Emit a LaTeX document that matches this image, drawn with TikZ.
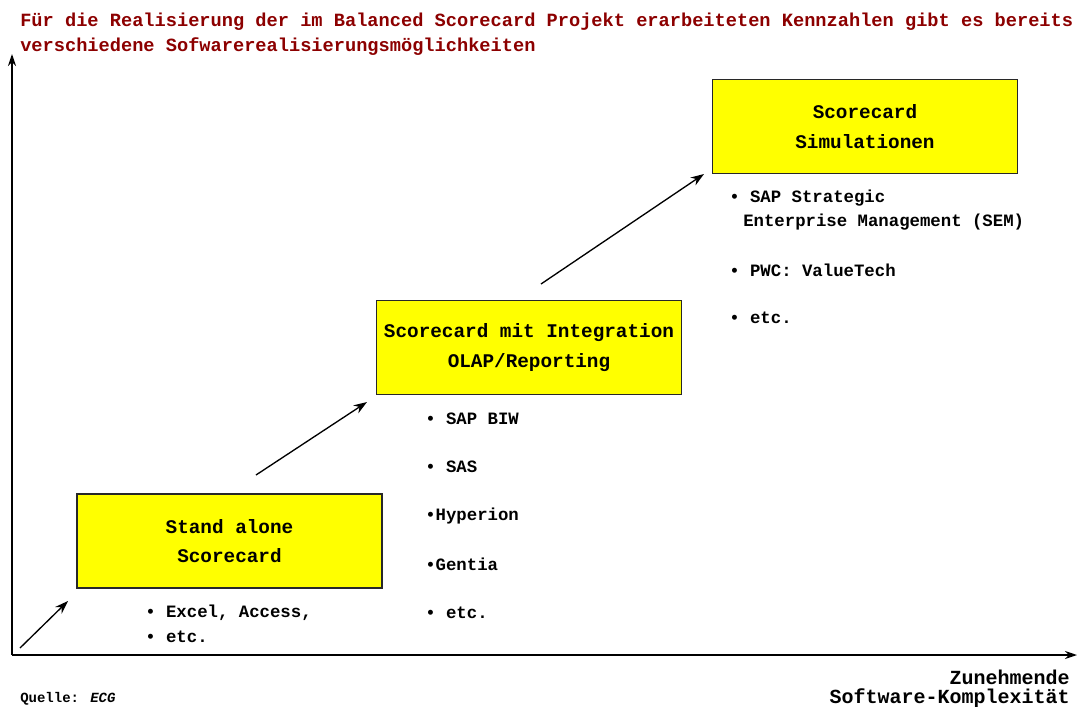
\documentclass[tikz,border=0pt]{standalone}
\usepackage{fontspec}
\setmainfont{Liberation Mono}
\usetikzlibrary{arrows.meta}
\definecolor{titlered}{RGB}{140,0,0}
\definecolor{boxyellow}{RGB}{255,255,0}
\definecolor{boxedge}{RGB}{40,40,40}
\tikzset{
  axis/.style={line width=1pt,-{Stealth[length=9pt,width=6pt]}},
  trend/.style={line width=1pt,-{Stealth[length=10pt,width=7pt]}},
  stagebox/.style={draw=boxedge,line width=1.2pt,fill=boxyellow,align=center,
    minimum width=229pt,minimum height=70.5pt,inner sep=0pt,
    font=\fontsize{14.5}{22}\selectfont\bfseries},
  titletext/.style={anchor=west,inner sep=0pt,text=titlered,font=\fontsize{14}{16}\selectfont\bfseries},
  itemtext/.style={anchor=west,inner sep=0pt,font=\fontsize{13}{15}\selectfont\bfseries},
  axistext/.style={anchor=east,inner sep=0pt,font=\fontsize{15}{16}\selectfont\bfseries},
  sourcetext/.style={anchor=west,inner sep=0pt,font=\fontsize{10.5}{12}\selectfont\bfseries}
}
\begin{document}
\begin{tikzpicture}[x=0.75pt,y=-0.75pt]
\useasboundingbox (0,0) rectangle (1082,707);
% axes
\coordinate (origin) at (12,655);
\coordinate (ytop) at (12,54);
\coordinate (xend) at (1077,655);
\draw[axis] (origin) -- (ytop);
\draw[axis] (origin) -- (xend);
% title
\node[titletext] (t1) at (20,22) {Für die Realisierung der im Balanced Scorecard Projekt erarbeiteten Kennzahlen gibt es bereits};
\node[titletext] (t2) at (20,47) {verschiedene Sofwarerealisierungsmöglichkeiten};
% boxes
\node[stagebox] (b1) at (229.5,541) {Stand alone\\Scorecard};
\node[stagebox] (b2) at (529,347.5) {Scorecard mit Integration\\OLAP/Reporting};
\node[stagebox] (b3) at (865,126.5) {Scorecard\\Simulationen};
% trend arrows
\coordinate (a1s) at (20,648);
\coordinate (a1e) at (68,601);
\coordinate (a2s) at (256,475);
\coordinate (a2e) at (367,402);
\coordinate (a3s) at (541,284);
\coordinate (a3e) at (704,174);
\draw[trend] (a1s) -- (a1e);
\draw[trend] (a2s) -- (a2e);
\draw[trend] (a3s) -- (a3e);
% items box 1
\node[itemtext] (i11) at (145,613) {\textbullet{} Excel, Access,};
\node[itemtext] (i12) at (145,637) {\textbullet{} etc.};
% items box 2
\node[itemtext] (i21) at (425,419) {\textbullet{} SAP BIW};
\node[itemtext] (i22) at (425,467) {\textbullet{} SAS};
\node[itemtext] (i23) at (425,516) {\textbullet Hyperion};
\node[itemtext] (i24) at (425,564) {\textbullet Gentia};
\node[itemtext] (i25) at (425,613) {\textbullet{} etc.};
% items box 3
\node[itemtext] (i31) at (729,198) {\textbullet{} SAP  Strategic};
\node[itemtext] (i32) at (743,222) {Enterprise Management (SEM)};
\node[itemtext] (i33) at (729,270) {\textbullet{} PWC: ValueTech};
\node[itemtext] (i34) at (729,318) {\textbullet{} etc.};
% axis label
\node[axistext] (x1) at (1070,677) {Zunehmende};
\node[axistext] (x2) at (1070,698) {Software-Komplexität};
% source
\node[sourcetext] (src) at (20,699) {Quelle: \textit{ECG}};
\end{tikzpicture}
\end{document}
